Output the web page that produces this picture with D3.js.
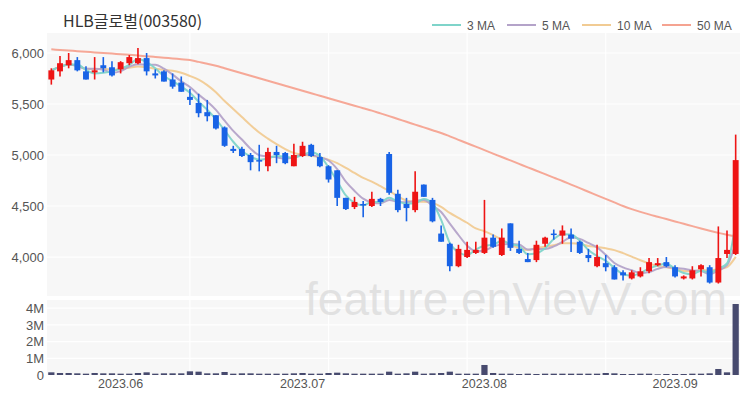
<!DOCTYPE html>
<html><head><meta charset="utf-8">
<script src="https://cdn.jsdelivr.net/npm/d3@7"></script>
<style>body{margin:0;background:#fff}svg{display:block}</style>
</head><body><svg id="c" width="750" height="400"></svg>
<script>
const title = "HLB글로벌(003580)";
const dates = [
"2023-05-19","2023-05-22","2023-05-23","2023-05-24","2023-05-25","2023-05-26","2023-05-30","2023-05-31",
"2023-06-01","2023-06-02","2023-06-05","2023-06-07","2023-06-08","2023-06-09","2023-06-12","2023-06-13","2023-06-14","2023-06-15","2023-06-16","2023-06-19","2023-06-20","2023-06-21","2023-06-22","2023-06-23","2023-06-26","2023-06-27","2023-06-28","2023-06-29","2023-06-30",
"2023-07-03","2023-07-04","2023-07-05","2023-07-06","2023-07-07","2023-07-10","2023-07-11","2023-07-12","2023-07-13","2023-07-14","2023-07-17","2023-07-18","2023-07-19","2023-07-20","2023-07-21","2023-07-24","2023-07-25","2023-07-26","2023-07-27","2023-07-28","2023-07-31",
"2023-08-01","2023-08-02","2023-08-03","2023-08-04","2023-08-07","2023-08-08","2023-08-09","2023-08-10","2023-08-11","2023-08-14","2023-08-16","2023-08-17","2023-08-18","2023-08-21","2023-08-22","2023-08-23","2023-08-24","2023-08-25","2023-08-28","2023-08-29","2023-08-30","2023-08-31",
"2023-09-01","2023-09-04","2023-09-05","2023-09-06","2023-09-07","2023-09-08","2023-09-11","2023-09-12"];
const open  = [5740,5820,5880,5930,5820,5810,5880,5860,5840,5900,5900,5950,5800,5820,5740,5710,5570,5510,5420,5390,5270,5060,5060,5000,4950,4890,5030,5020,4890,4990,5100,4980,4890,4850,4580,4490,4520,4500,4570,5010,4620,4520,4460,4710,4560,4230,4130,3910,4000,4040,4040,4190,4020,4330,4080,3980,3970,4130,4230,4210,4220,4150,4020,3910,3940,3900,3850,3790,3810,3860,3920,3950,3900,3790,3790,3880,3900,3750,4030,4030];
const high  = [5850,5970,6000,5960,5870,5960,5960,5920,5920,5980,6050,6000,5840,5830,5800,5770,5650,5600,5540,5390,5280,5090,5080,5020,5100,5070,5090,5030,5110,5130,5110,5020,4900,4850,4580,4590,4550,4640,4580,5030,4660,4580,4840,4710,4580,4310,4140,4120,4150,4150,4560,4220,4280,4330,4160,4040,4160,4200,4270,4310,4280,4160,4080,4120,4020,3920,3870,3870,3900,3990,3990,4000,3920,3820,3910,3930,3920,4300,4260,5200];
const low   = [5690,5770,5850,5820,5740,5740,5810,5770,5800,5880,5890,5780,5750,5720,5650,5620,5490,5370,5330,5250,5080,5020,4980,4850,4840,4840,4920,4910,4890,4980,4980,4880,4730,4500,4460,4470,4390,4490,4500,4610,4440,4350,4440,4590,4340,4150,3860,3900,3990,4030,4030,4090,4010,4060,4030,3950,3950,4100,4170,4130,4050,4030,3950,3900,3860,3780,3770,3780,3800,3840,3910,3900,3800,3780,3780,3810,3740,3740,3990,4020];
const close = [5830,5900,5930,5830,5740,5830,5850,5780,5910,5960,5950,5820,5780,5720,5670,5620,5540,5410,5380,5260,5090,5040,4990,4930,4940,5030,5000,4920,5000,5090,4990,4890,4760,4580,4470,4540,4510,4570,4540,4630,4460,4480,4640,4590,4350,4150,3910,4080,4070,4070,4190,4100,4190,4090,4040,3950,4120,4190,4220,4260,4180,4040,3990,4000,3900,3780,3820,3850,3860,3950,3940,3910,3810,3810,3870,3920,3750,3990,4070,4950];
const volume = [160,120,120,100,80,120,100,100,80,80,120,160,80,100,100,100,220,200,100,100,180,80,100,100,80,80,80,80,100,120,80,80,120,140,100,80,80,80,80,200,80,100,200,80,100,120,200,80,80,80,600,120,80,80,60,80,60,80,80,80,80,80,80,80,120,100,60,60,80,80,40,60,60,60,80,80,100,360,160,4250].map(v => v * 1000);
const ma50 = [6036,6030,6024,6018,6012,6006,6000,5994,5988,5982,5976,5968,5961,5954,5946,5939,5931,5913,5895,5875,5850,5826,5801,5777,5752,5728,5703,5679,5654,5630,5605,5581,5557,5532,5508,5483,5459,5435,5408,5381,5353,5326,5298,5271,5243,5216,5183,5149,5115,5082,5048,5014,4980,4947,4913,4879,4846,4812,4778,4745,4710,4675,4640,4605,4570,4535,4500,4470,4443,4418,4395,4372,4349,4326,4303,4280,4258,4237,4218,4200];
const priceTicks = [4000,4500,5000,5500,6000];
const volumeTicks = [0,1e6,2e6,3e6,4e6];
const monthTicks = ["2023-06-01","2023-07-03","2023-08-01","2023-09-01"];
const monthLabels = ["2023.06","2023.07","2023.08","2023.09"];
const maNames = ["3 MA","5 MA","10 MA","50 MA"];
const maPeriods = [3,5,10,50];
const maColors = ["#7fd4ca","#b4a3c9","#f1cb93","#f5a391"];
const upColor = "#ee1414", downColor = "#1863e6", volColor = "#474a6e";

const svg = d3.select("#c");
const W = 750, H = 400;
const L = 47, R = 740;
const pTop = 33, pBot = 296, vTop = 300, vBot = 375;

const x = d3.scaleBand().domain(dates).range([L, R]).padding(0);
const bw = x.bandwidth();
const cx = d => x(d) + bw / 2;
const y = d3.scaleLinear().domain([3618, 6196]).range([pBot, pTop]);
const yv = d3.scaleLinear().domain([0, 4.49e6]).range([vBot, vTop]);

svg.append("rect").attr("width", W).attr("height", H).attr("fill", "#fff");
svg.append("rect").attr("x", L).attr("y", pTop).attr("width", R - L).attr("height", pBot - pTop).attr("fill", "#f7f7f7");
svg.append("rect").attr("x", L).attr("y", vTop).attr("width", R - L).attr("height", vBot - vTop).attr("fill", "#f7f7f7");

// grid
const gridIdx = dates.filter((d, i) => i > 0 && i % 16 === 0);
const grid = svg.append("g").attr("stroke", "#ffffff").attr("stroke-width", 1.2);
grid.selectAll(".hg").data(priceTicks).join("line")
  .attr("x1", L).attr("x2", R).attr("y1", d => y(d)).attr("y2", d => y(d));
grid.selectAll(".vg").data(volumeTicks.slice(1)).join("line")
  .attr("x1", L).attr("x2", R).attr("y1", d => yv(d)).attr("y2", d => yv(d));
grid.selectAll(".xg").data(gridIdx).join("line")
  .attr("x1", d => cx(d)).attr("x2", d => cx(d)).attr("y1", pTop).attr("y2", pBot);
grid.selectAll(".xg2").data(gridIdx).join("line")
  .attr("x1", d => cx(d)).attr("x2", d => cx(d)).attr("y1", vTop).attr("y2", vBot);

// watermark
svg.append("text").attr("x", 516).attr("y", 315).attr("text-anchor", "middle")
  .attr("font-family", "Liberation Sans, Arial, sans-serif").attr("font-size", 46)
  .attr("fill", "#dedede").attr("fill-opacity", 0.85).text("feature.enVievV.com");

// axes
const fontNum = "Liberation Sans, Arial, sans-serif";
const yAxis = svg.append("g").attr("transform", `translate(${L - 3},0)`)
  .call(d3.axisLeft(y).tickValues(priceTicks).tickFormat(d3.format(",")).tickSize(0).tickPadding(0));
const vAxis = svg.append("g").attr("transform", `translate(${L - 3},0)`)
  .call(d3.axisLeft(yv).tickValues(volumeTicks).tickFormat(d => d === 0 ? "0" : (d / 1e6) + "M").tickSize(0).tickPadding(0));
const xAxis = svg.append("g").attr("transform", `translate(0,${vBot + 1})`)
  .call(d3.axisBottom(x).tickValues(monthTicks).tickFormat((d, i) => monthLabels[i]).tickSize(0).tickPadding(3));
[yAxis, vAxis, xAxis].forEach(g => {
  g.select(".domain").remove();
  g.selectAll("text").attr("fill", "#555").attr("font-family", fontNum).attr("font-size", 13);
});
xAxis.selectAll("text").attr("font-size", 12.5);

// volume bars
svg.append("g").selectAll("rect").data(dates).join("rect")
  .attr("x", d => cx(d) - bw * 0.36).attr("width", bw * 0.72)
  .attr("y", (d, i) => yv(volume[i])).attr("height", (d, i) => vBot - yv(volume[i]))
  .attr("fill", volColor);

// MA lines
function movingAvg(n) {
  return close.map((c, i) => {
    const s = close.slice(Math.max(0, i - n + 1), i + 1);
    return d3.mean(s);
  });
}
const maSeries = [movingAvg(3), movingAvg(5), movingAvg(10), ma50];
const line = d3.line().x((d, i) => cx(dates[i])).y(d => y(d)).curve(d3.curveMonotoneX);
const maG = svg.append("g");
[3, 2, 1, 0].forEach(k => {
  maG.append("path").attr("d", line(maSeries[k])).attr("fill", "none")
    .attr("stroke", maColors[k]).attr("stroke-width", 2).attr("stroke-opacity", 0.95);
});

// candles
const cg = svg.append("g");
const col = i => close[i] >= open[i] ? upColor : downColor;
cg.selectAll("line").data(dates).join("line")
  .attr("x1", d => cx(d)).attr("x2", d => cx(d))
  .attr("y1", (d, i) => y(high[i])).attr("y2", (d, i) => y(low[i]))
  .attr("stroke", (d, i) => col(i)).attr("stroke-width", 1.6);
cg.selectAll("rect").data(dates).join("rect")
  .attr("x", d => cx(d) - bw * 0.34).attr("width", bw * 0.68)
  .attr("y", (d, i) => y(Math.max(open[i], close[i])))
  .attr("height", (d, i) => Math.max(1.5, Math.abs(y(open[i]) - y(close[i]))))
  .attr("fill", (d, i) => col(i));

// title
svg.append("text").attr("x", 63).attr("y", 27)
  .attr("font-family", "Noto Sans CJK KR, sans-serif").attr("font-size", 16)
  .attr("fill", "#333").text(title);

// legend
const legX = [432, 507, 582, 662];
const lg = svg.append("g");
maNames.forEach((n, k) => {
  lg.append("line").attr("x1", legX[k]).attr("x2", legX[k] + 29).attr("y1", 25).attr("y2", 25)
    .attr("stroke", maColors[k]).attr("stroke-width", 2);
  lg.append("text").attr("x", legX[k] + 35).attr("y", 29.5)
    .attr("font-family", fontNum).attr("font-size", 12).attr("fill", "#555").text(n);
});
</script></body></html>
